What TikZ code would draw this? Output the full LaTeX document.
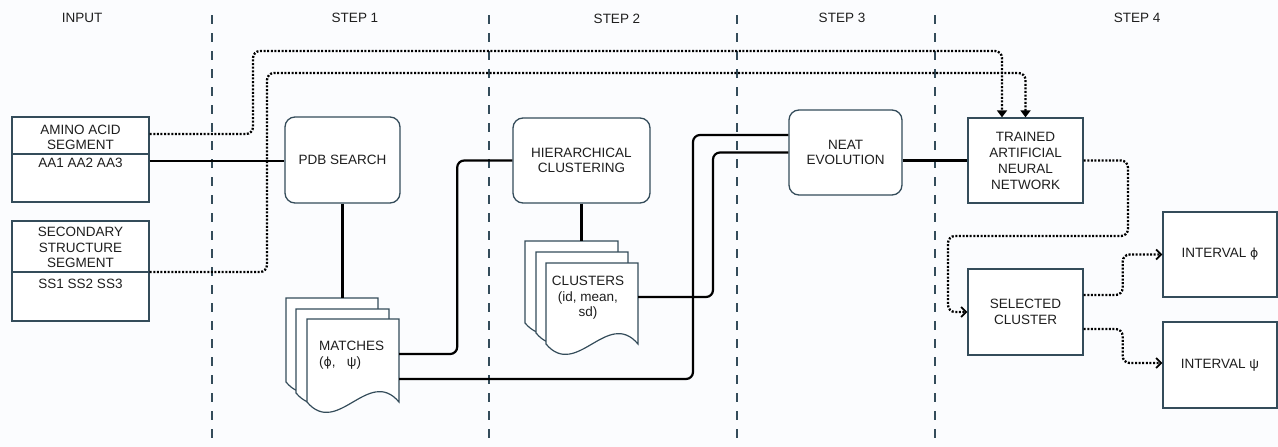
\documentclass[tikz,border=0pt]{standalone}
\usepackage{fontspec}
\setmainfont{Liberation Sans}
\newfontfamily\symfont{DejaVu Sans}
\usetikzlibrary{arrows.meta}
\definecolor{bordc}{RGB}{52,76,90}
\definecolor{txtc}{RGB}{30,30,30}
\definecolor{bgc}{RGB}{251,252,254}
\newcommand{\myphi}{{\symfont\fontsize{12.5}{15}\selectfont ϕ}}
\tikzset{
  lbl/.style={font=\fontsize{13.5}{15.5}\selectfont, text=txtc, align=center, inner sep=0pt},
  hdr/.style={font=\fontsize{13.5}{15}\selectfont, text=txtc, inner sep=0pt},
  plainbox/.style={draw=bordc, line width=1.3pt, fill=white, inner sep=0pt},
  procbox/.style={plainbox, rounded corners=10pt},
  ghost/.style={inner sep=0pt},
  divider/.style={draw=bordc, dash pattern=on 9pt off 9pt, line width=1.4pt},
  solidconn/.style={draw=black, line width=2.2pt, rounded corners=7pt},
  dotconn/.style={draw=black, line width=2.3pt, dash pattern=on 2pt off 1.6pt, rounded corners=7pt},
  page/.style={draw=bordc, line width=1.2pt, fill=white},
}
% document page: #1 x-left, #2 top, #3 x-right, #4 bottom level
\newcommand{\docpage}[4]{%
  \path[page] (#1,#2) -- (#3,#2) -- (#3,#4)
    .. controls ({#3-0.33*(#3-#1)},{#4-36}) and ({#1+0.33*(#3-#1)},{#4+36}) .. (#1,#4) -- cycle;}
\begin{document}
\begin{tikzpicture}[x=1pt,y=-1pt]
\path[fill=bgc] (0,0) rectangle (1278,447);
\useasboundingbox (0,0) rectangle (1278,447);

% column dividers
\foreach \xx/\nm in {212/da,489/db,737/dc,935/dd}{
  \coordinate (\nm top) at (\xx,15);
  \coordinate (\nm bot) at (\xx,447);
  \draw[divider] (\nm top) -- (\nm bot);
}

% headers
\node[hdr] (hin) at (82,18) {INPUT};
\node[hdr] (hs1) at (355,18) {STEP 1};
\node[hdr] (hs2) at (617,19) {STEP 2};
\node[hdr] (hs3) at (842,18) {STEP 3};
\node[hdr] (hs4) at (1137,18) {STEP 4};

% input boxes
\node[plainbox, minimum width=137pt, minimum height=85pt] (aa) at (80.5,159.5) {};
\draw[draw=bordc, line width=1.3pt] (aa.west |- 0,154) -- (aa.east |- 0,154);
\node[lbl] (aat) at (80.5,137.5) {AMINO ACID\\SEGMENT};
\node[lbl] (aav) at (80.5,163) {AA1 AA2 AA3};

\node[plainbox, minimum width=137pt, minimum height=100pt] (ss) at (80.5,271) {};
\draw[draw=bordc, line width=1.3pt] (ss.west |- 0,272) -- (ss.east |- 0,272);
\node[lbl] (sst) at (80.5,247.5) {SECONDARY\\STRUCTURE\\SEGMENT};
\node[lbl] (ssv) at (80.5,284) {SS1 SS2 SS3};

% process boxes
\node[procbox, minimum width=115pt, minimum height=86pt] (pdb) at (342.5,160) {};
\node[lbl] at (pdb.center) {PDB SEARCH};
\node[procbox, minimum width=137pt, minimum height=85pt] (hc) at (581.5,160.5) {};
\node[lbl] at (hc.center) {HIERARCHICAL\\CLUSTERING};
\node[procbox, minimum width=113pt, minimum height=85pt] (neat) at (845.5,152.5) {};
\node[lbl] at (neat.center) {NEAT\\EVOLUTION};

% step 4 boxes
\node[plainbox, minimum width=115pt, minimum height=85pt] (tann) at (1025.5,160.5) {};
\node[lbl, font=\fontsize{13.5}{16}\selectfont] at (tann.center) {TRAINED\\ARTIFICIAL\\NEURAL\\NETWORK};
\node[plainbox, minimum width=115pt, minimum height=86pt] (sel) at (1025.5,312) {};
\node[lbl] at (sel.center) {SELECTED\\CLUSTER};
\node[plainbox, minimum width=114pt, minimum height=85pt] (iphi) at (1220,254.5) {};
\node[lbl] at (iphi.center) {INTERVAL \myphi};
\node[plainbox, minimum width=114pt, minimum height=86pt] (ipsi) at (1220,365) {};
\node[lbl] at (ipsi.center) {INTERVAL ψ};

% matches stack
\docpage{286}{298}{378}{382}
\docpage{296}{309}{389}{393}
\docpage{307}{319}{399}{402}
\node[ghost, minimum width=92pt, minimum height=83pt] (matches) at (353,360.5) {};
\node[ghost, minimum width=92pt, minimum height=84pt] (mback) at (332,340) {};
\node[lbl, align=left, anchor=west] (mt) at (319,355) {MATCHES\\(\myphi,\ \ \ ψ)};

% clusters stack
\docpage{525}{241}{618}{323}
\docpage{536}{252}{628}{333}
\docpage{546}{263}{638}{344}
\node[ghost, minimum width=92pt, minimum height=81pt] (clusters) at (592,303.5) {};
\node[ghost, minimum width=93pt, minimum height=82pt] (cback) at (571.5,282) {};
\node[lbl] (ct) at (588,298) {CLUSTERS\\(id, mean,\\sd)};

% solid connectors
\draw[solidconn] (aa.east |- 0,161) -- (pdb.west |- 0,161);
\draw[solidconn] (pdb.south) -- (pdb.south |- mback.north);
\draw[solidconn] (hc.south) -- (hc.south |- cback.north);
\draw[solidconn] ([yshift=6.5pt]matches.east) -- ++(58,0) |- (hc.west);
\draw[solidconn] ([yshift=-18.5pt]matches.east) -- (693,379) |- ([yshift=17.5pt]neat.west);
\draw[solidconn] ([yshift=6.5pt]clusters.east) -- (713,297) |- (neat.west);
\draw[solidconn] (tann.west -| neat.east) -- (tann.west);

% dotted connectors
\draw[dotconn, -{Triangle[length=7pt,width=10pt]}] ([yshift=25.5pt]aa.east) -| (253,51) -| ([xshift=-23.5pt]tann.north);
\draw[dotconn, -{Triangle[length=7pt,width=10pt]}] ([yshift=-1pt]ss.east) -| (267,73) -| (tann.north);
\draw[dotconn, -{Straight Barb[length=5pt,width=10pt,line width=1.8pt]}] (tann.east) -| (1128,236) -| (948,312) -- (sel.west);
\draw[dotconn, -{Straight Barb[length=5pt,width=10pt,line width=1.8pt]}] ([yshift=17pt]sel.east) -- ++(39,0) |- (iphi.west);
\draw[dotconn, -{Straight Barb[length=5pt,width=10pt,line width=1.8pt]}] ([yshift=-17pt]sel.east) -- ++(39,0) |- ([yshift=2pt]ipsi.west);
\end{tikzpicture}
\end{document}
